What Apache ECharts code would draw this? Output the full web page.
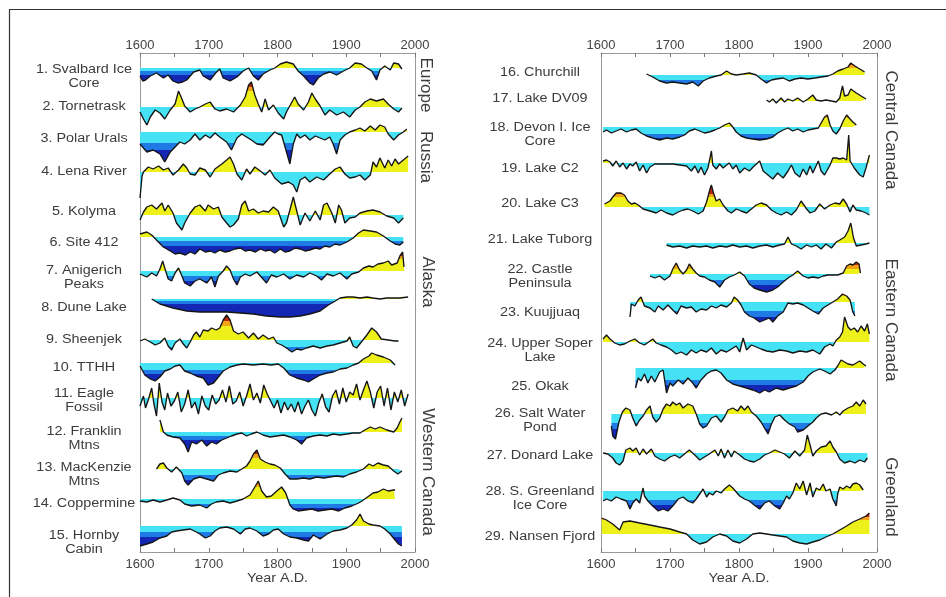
<!DOCTYPE html>
<html><head><meta charset="utf-8">
<script src="https://cdn.jsdelivr.net/npm/echarts@6/dist/echarts.min.js"></script>
<style>html,body{margin:0;padding:0;background:#fff}#c{width:946px;height:597px}</style>
</head><body><div id="c"></div>
<script>
// ---------- DATA ----------
const tickYears = [1600, 1700, 1800, 1900, 2000];
const names = [
 '1. Svalbard Ice\nCore','2. Tornetrask','3. Polar Urals','4. Lena River','5. Kolyma','6. Site 412',
 '7. Anigerich\nPeaks','8. Dune Lake','9. Sheenjek','10. TTHH','11. Eagle\nFossil','12. Franklin\nMtns',
 '13. MacKenzie\nMtns','14. Coppermine','15. Hornby\nCabin',
 '16. Churchill','17. Lake DV09','18. Devon I. Ice\nCore','19. Lake C2','20. Lake C3','21. Lake Tuborg',
 '22. Castle\nPeninsula','23. Kuujjuaq','24. Upper Soper\nLake','25. Okak','26. Salt Water\nPond',
 '27. Donard Lake','28. S. Greenland\nIce Core','29. Nansen Fjord'];
const regionNames = ['Europe','Russia','Alaska','Western Canada','Central Canada','Eastern Canada','Greenland'];
const axisTitle = 'Year A.D.';

const s01 = [[1600,-8],[1604,-13],[1608,-12],[1615,-8],[1624,-5],[1634,-10],[1641,-7],[1648,-13],[1655,-15],[1662,-14],[1668,-12],[1678,-4],[1687,-2],[1692,-8],[1702,-12],[1710,-5],[1716,-1],[1721,-10],[1731,-13],[1741,-9],[1750,-3],[1758,0],[1765,-8],[1772,-12],[1779,-6],[1789,-2],[1796,0],[1804,4],[1813,6],[1823,4],[1830,-3],[1838,-8],[1847,-15],[1852,-17],[1859,-10],[1867,-6],[1876,-4],[1886,-7],[1896,-3],[1905,0],[1913,5],[1922,4],[1930,0],[1937,-3],[1944,-12],[1949,-2],[1956,2],[1964,-2],[1969,5],[1976,4],[1981,-1]];
const s02 = [[1600,-5],[1605,-12],[1610,-18],[1615,-10],[1622,-3],[1629,-6],[1636,-12],[1644,-3],[1651,3],[1656,16],[1661,8],[1665,1],[1673,-5],[1680,-2],[1687,0],[1695,3],[1702,5],[1709,-2],[1716,-4],[1726,-2],[1736,-5],[1746,2],[1753,10],[1758,22],[1762,25],[1767,12],[1772,3],[1777,-5],[1782,8],[1787,-3],[1794,2],[1801,-6],[1809,-12],[1813,-5],[1821,5],[1825,10],[1830,3],[1838,-3],[1845,5],[1850,14],[1855,8],[1862,1],[1869,-8],[1876,-3],[1886,-8],[1896,-5],[1905,-10],[1913,-3],[1920,0],[1927,5],[1935,8],[1944,6],[1954,8],[1961,3],[1969,-2],[1976,-5],[1981,-1]];
const s03 = [[1600,-12],[1610,-20],[1619,-18],[1629,-22],[1636,-30],[1644,-20],[1651,-15],[1658,-10],[1665,-12],[1673,-8],[1680,-2],[1687,-8],[1695,-3],[1702,-6],[1709,-1],[1716,-5],[1726,-10],[1733,-18],[1741,-6],[1748,-2],[1755,-5],[1762,-8],[1770,-12],[1779,-13],[1789,-5],[1796,0],[1801,-2],[1806,-3],[1811,-15],[1818,-32],[1823,-12],[1828,-2],[1833,-6],[1840,-3],[1847,-8],[1855,-4],[1862,-6],[1869,-8],[1876,-5],[1881,-12],[1886,-22],[1891,-8],[1898,-3],[1905,0],[1913,2],[1920,4],[1927,1],[1935,6],[1942,2],[1949,7],[1956,5],[1961,-2],[1969,-8],[1976,-3],[1983,0],[1988,3]];
const s04 = [[1600,-26],[1603,-4],[1605,0],[1612,5],[1619,3],[1627,6],[1634,2],[1641,4],[1648,-3],[1656,2],[1663,8],[1668,4],[1673,-2],[1680,-3],[1687,4],[1695,2],[1702,-5],[1709,3],[1719,8],[1726,12],[1731,15],[1736,8],[1741,-2],[1748,-8],[1755,3],[1760,-2],[1767,5],[1775,1],[1782,-3],[1789,2],[1796,-6],[1806,-12],[1816,-10],[1823,-13],[1828,-20],[1833,-8],[1840,-5],[1847,-10],[1857,-5],[1867,-8],[1876,-2],[1884,3],[1891,5],[1898,-2],[1905,-6],[1913,-5],[1920,-3],[1927,-8],[1935,-3],[1939,10],[1944,5],[1949,14],[1956,4],[1961,12],[1966,6],[1971,13],[1976,8],[1983,12],[1990,16]];
const s05 = [[1600,-5],[1605,3],[1610,8],[1617,10],[1624,6],[1632,12],[1636,4],[1641,10],[1648,2],[1653,-8],[1661,-15],[1665,-8],[1673,2],[1680,8],[1687,10],[1695,4],[1699,10],[1707,6],[1714,8],[1719,-2],[1726,-8],[1731,-12],[1736,-10],[1743,-4],[1748,10],[1753,14],[1758,4],[1765,6],[1772,2],[1779,4],[1787,3],[1794,8],[1801,4],[1809,-12],[1813,-8],[1818,5],[1823,18],[1828,4],[1833,-10],[1840,2],[1847,-6],[1855,4],[1862,-5],[1867,10],[1872,12],[1879,2],[1884,-8],[1889,10],[1893,5],[1898,-8],[1905,-3],[1913,-2],[1920,2],[1930,4],[1939,5],[1949,3],[1959,-1],[1969,-3],[1976,-8],[1983,-3]];
const s06 = [[1600,3],[1610,5],[1617,2],[1624,-3],[1634,-10],[1644,-14],[1651,-17],[1658,-16],[1666,-18],[1673,-15],[1680,-17],[1687,-12],[1695,-15],[1702,-14],[1709,-16],[1716,-13],[1724,-15],[1731,-14],[1738,-12],[1746,-11],[1753,-14],[1760,-13],[1768,-15],[1775,-12],[1782,-14],[1789,-13],[1796,-16],[1804,-12],[1811,-15],[1818,-14],[1826,-11],[1833,-12],[1840,-14],[1847,-13],[1855,-11],[1862,-12],[1869,-9],[1876,-10],[1884,-7],[1891,-8],[1901,-5],[1910,-1],[1918,4],[1925,7],[1935,6],[1944,5],[1954,1],[1964,-4],[1971,-7],[1978,-8],[1983,-5]];
const s07 = [[1600,-3],[1610,-6],[1617,-2],[1624,-5],[1629,2],[1633,10],[1636,3],[1641,-8],[1646,-10],[1651,-2],[1656,3],[1661,-5],[1665,-12],[1673,-15],[1680,-10],[1687,-8],[1697,-12],[1704,-6],[1709,-16],[1714,-5],[1721,0],[1726,5],[1731,1],[1736,-8],[1741,-14],[1746,-6],[1753,-3],[1760,-5],[1770,-1],[1779,-8],[1784,-12],[1791,-4],[1799,-6],[1809,-3],[1818,-8],[1828,-4],[1838,-6],[1847,-2],[1857,-5],[1864,-9],[1872,-3],[1881,-5],[1891,-2],[1901,-8],[1908,-3],[1918,-1],[1925,3],[1933,5],[1939,4],[1946,7],[1954,8],[1961,10],[1966,6],[1974,8],[1978,15],[1982,19],[1984,4]];
const s08 = [[1617,0],[1629,-5],[1648,-9],[1668,-12],[1687,-13],[1707,-13],[1726,-13],[1746,-14],[1765,-15],[1784,-17],[1804,-18],[1818,-18],[1833,-17],[1847,-15],[1862,-12],[1874,-6],[1884,-2],[1891,1],[1901,2],[1910,2],[1920,1],[1930,2],[1939,1],[1949,0],[1959,1],[1969,1],[1978,1],[1990,2]];
const s09 = [[1600,-1],[1607,1],[1615,-2],[1622,-5],[1629,-3],[1636,2],[1641,-6],[1646,-10],[1651,-3],[1658,1],[1663,-4],[1668,-8],[1673,-2],[1678,5],[1682,8],[1687,3],[1692,10],[1699,9],[1704,12],[1711,10],[1716,12],[1721,20],[1726,25],[1731,20],[1736,9],[1743,6],[1750,8],[1758,2],[1765,7],[1772,1],[1779,5],[1787,1],[1794,3],[1799,-3],[1806,-5],[1813,-8],[1821,-12],[1828,-9],[1835,-10],[1842,-8],[1852,-6],[1862,-8],[1872,-6],[1881,-5],[1891,-3],[1901,-1],[1905,3],[1910,-6],[1915,-8],[1922,-2],[1930,5],[1937,12],[1944,8],[1951,1],[1961,0],[1971,-1],[1976,-1]];
const s10 = [[1600,-3],[1607,-12],[1615,-16],[1622,-18],[1629,-14],[1636,-8],[1644,-6],[1651,-3],[1658,-2],[1665,-8],[1673,-10],[1682,-13],[1692,-15],[1699,-22],[1707,-20],[1714,-14],[1721,-8],[1731,-4],[1741,-2],[1750,-1],[1765,-2],[1779,-1],[1791,-2],[1801,-1],[1809,-5],[1818,-12],[1828,-15],[1838,-17],[1845,-19],[1852,-16],[1862,-12],[1872,-10],[1881,-9],[1891,-6],[1901,-5],[1910,-2],[1918,0],[1925,4],[1933,7],[1937,10],[1944,8],[1954,6],[1964,3],[1971,-2]];
const s11 = [[1600,-8],[1605,2],[1608,-10],[1612,-2],[1617,10],[1620,-5],[1624,-18],[1628,15],[1632,-4],[1636,-12],[1640,5],[1645,-8],[1650,-3],[1655,6],[1660,-14],[1665,-6],[1670,8],[1675,-10],[1680,-4],[1685,-16],[1690,2],[1695,-8],[1700,-12],[1705,3],[1710,-6],[1715,-2],[1720,8],[1725,-4],[1730,12],[1735,-6],[1740,-3],[1745,6],[1750,-8],[1755,2],[1760,14],[1765,-2],[1770,5],[1775,-5],[1780,13],[1785,4],[1790,-3],[1795,-10],[1800,-2],[1805,-15],[1810,-4],[1815,-12],[1820,-6],[1825,-14],[1830,-4],[1835,-16],[1840,-8],[1845,-2],[1850,-12],[1855,-18],[1860,-5],[1865,4],[1870,-9],[1875,-14],[1880,2],[1885,8],[1890,-6],[1895,10],[1900,-4],[1905,6],[1910,3],[1915,14],[1920,-2],[1925,8],[1930,17],[1935,6],[1940,-10],[1945,6],[1950,12],[1955,-8],[1960,10],[1965,-12],[1970,6],[1975,-4],[1980,8],[1985,-8],[1990,4]];
const s12 = [[1629,12],[1634,0],[1639,-3],[1648,-5],[1658,-6],[1665,-12],[1670,-20],[1675,-10],[1682,-12],[1690,-8],[1697,-14],[1704,-10],[1711,-12],[1719,-8],[1726,-6],[1733,-4],[1741,-2],[1748,-1],[1755,-4],[1762,-2],[1770,0],[1779,-3],[1789,-5],[1799,-4],[1809,-3],[1818,-5],[1828,-8],[1835,-12],[1842,-6],[1852,-4],[1862,-3],[1872,-4],[1881,-2],[1891,-3],[1901,-2],[1910,-1],[1920,-1],[1927,2],[1935,5],[1942,3],[1949,5],[1959,2],[1969,0],[1974,4],[1978,10],[1981,14]];
const s13 = [[1624,0],[1629,5],[1634,6],[1639,1],[1646,-3],[1653,2],[1661,-4],[1665,-12],[1670,-16],[1678,-10],[1687,-8],[1697,-10],[1707,-12],[1714,-6],[1721,-4],[1731,-2],[1741,-3],[1748,0],[1755,3],[1760,8],[1765,15],[1770,19],[1775,10],[1782,7],[1789,5],[1796,4],[1804,1],[1811,-5],[1818,-10],[1828,-10],[1838,-9],[1847,-10],[1857,-8],[1867,-9],[1876,-8],[1886,-7],[1896,-8],[1905,-5],[1915,-3],[1925,0],[1933,5],[1939,3],[1946,6],[1954,4],[1961,3],[1969,-2],[1975,-5],[1981,-2]];
const s14 = [[1600,-2],[1610,-3],[1619,-1],[1629,-3],[1639,-1],[1648,1],[1658,-1],[1665,-5],[1675,-7],[1687,-6],[1697,-9],[1704,-5],[1711,-3],[1721,-2],[1731,-4],[1741,-2],[1750,0],[1760,4],[1767,12],[1772,18],[1777,8],[1784,2],[1791,3],[1799,8],[1806,12],[1812,6],[1818,-6],[1823,-10],[1830,-12],[1840,-11],[1850,-10],[1859,-12],[1869,-11],[1879,-10],[1889,-12],[1898,-9],[1908,-7],[1918,-4],[1925,-1],[1933,3],[1939,6],[1946,7],[1954,10],[1961,8],[1969,9],[1971,9]];
const s15 = [[1600,-20],[1610,-18],[1619,-16],[1629,-12],[1639,-10],[1646,-6],[1653,-5],[1663,-4],[1673,-3],[1682,-6],[1687,-8],[1695,-12],[1702,-10],[1709,-5],[1716,-2],[1726,-1],[1736,-3],[1746,-8],[1753,-3],[1760,-2],[1770,-5],[1779,-10],[1787,-8],[1794,-4],[1801,-3],[1809,-8],[1818,-11],[1828,-12],[1838,-14],[1845,-15],[1852,-9],[1862,-13],[1872,-8],[1881,-5],[1891,-4],[1901,-2],[1908,1],[1915,6],[1920,12],[1925,5],[1933,2],[1939,1],[1949,0],[1956,-3],[1964,-8],[1971,-14],[1976,-18],[1981,-20]];
const s16 = [[1666,1],[1675,-2],[1685,-6],[1695,-8],[1704,-7],[1714,-8],[1724,-9],[1733,-7],[1741,-11],[1748,-6],[1757,-3],[1767,-1],[1774,0],[1782,4],[1789,1],[1796,0],[1806,1],[1815,2],[1825,0],[1832,-4],[1840,-8],[1847,-5],[1854,-4],[1864,-3],[1873,-6],[1881,-4],[1890,-3],[1900,-4],[1910,-3],[1919,-2],[1929,-1],[1936,1],[1943,4],[1951,6],[1958,8],[1962,12],[1968,9],[1975,6],[1982,3]];
const s17 = [[1840,1],[1844,-1],[1849,2],[1854,-2],[1861,3],[1866,-1],[1871,2],[1878,0],[1885,3],[1893,-1],[1900,2],[1907,6],[1912,1],[1919,0],[1926,1],[1934,0],[1941,-1],[1946,3],[1950,15],[1953,5],[1958,6],[1962,12],[1970,8],[1977,5],[1984,2]];
const s18 = [[1603,-5],[1608,-3],[1615,-6],[1622,-4],[1629,-2],[1637,-5],[1644,-3],[1651,-2],[1658,-6],[1666,-9],[1675,-11],[1685,-13],[1695,-11],[1704,-12],[1714,-10],[1721,-8],[1728,-4],[1736,-2],[1743,-4],[1750,-6],[1757,-5],[1765,-3],[1772,-1],[1779,2],[1786,4],[1791,0],[1796,-5],[1803,-9],[1811,-11],[1820,-12],[1830,-13],[1840,-12],[1849,-10],[1856,-6],[1864,-3],[1871,-1],[1878,-4],[1885,-2],[1893,-5],[1900,-3],[1907,-2],[1915,-1],[1919,4],[1924,10],[1928,12],[1932,2],[1936,-4],[1941,-7],[1946,-2],[1951,6],[1956,12],[1961,8],[1965,5],[1970,2]];
const s19 = [[1603,2],[1608,3],[1613,1],[1617,-3],[1622,2],[1627,-4],[1632,0],[1637,-6],[1642,-1],[1646,-3],[1651,1],[1656,-8],[1661,-2],[1666,-10],[1671,-4],[1678,-1],[1685,-1],[1695,-1],[1704,-1],[1714,-2],[1724,-3],[1731,-8],[1736,-3],[1741,-10],[1745,-4],[1750,-12],[1755,-5],[1760,12],[1762,-2],[1767,-6],[1772,-1],[1777,-5],[1782,-2],[1786,0],[1791,-6],[1796,-2],[1801,-10],[1808,-5],[1815,-8],[1822,-3],[1830,2],[1835,-8],[1842,-12],[1849,-16],[1856,-10],[1864,-15],[1871,-8],[1876,-2],[1881,-10],[1888,-14],[1893,-6],[1898,-12],[1903,-3],[1907,-10],[1915,2],[1919,-8],[1924,-12],[1932,-2],[1936,5],[1941,5],[1946,4],[1951,5],[1956,3],[1959,28],[1961,2],[1967,-5],[1975,-12],[1980,-14],[1984,-5],[1989,8]];
const s20 = [[1605,3],[1613,6],[1617,10],[1622,14],[1629,14],[1634,12],[1639,6],[1644,3],[1649,4],[1654,2],[1661,-2],[1671,-4],[1680,-6],[1687,-3],[1695,-6],[1704,-8],[1712,-5],[1719,-3],[1726,-2],[1733,-4],[1741,-7],[1748,-4],[1753,5],[1758,18],[1760,22],[1763,14],[1767,6],[1772,8],[1777,2],[1784,-4],[1789,-6],[1796,-2],[1803,-4],[1811,-6],[1818,-2],[1825,2],[1832,4],[1840,2],[1847,-3],[1854,-6],[1861,-8],[1869,-5],[1876,-8],[1883,-3],[1890,6],[1898,-2],[1903,-6],[1910,-4],[1917,3],[1924,-2],[1932,2],[1939,4],[1946,3],[1951,8],[1956,3],[1961,-5],[1965,2],[1970,-3],[1977,-4],[1984,-6],[1989,-8]];
const s21 = [[1695,-2],[1704,-4],[1714,-3],[1724,-5],[1733,-3],[1743,-4],[1753,-3],[1762,-5],[1772,-3],[1782,-4],[1791,-2],[1801,-4],[1811,-3],[1820,-5],[1830,-3],[1840,-2],[1849,-4],[1859,-2],[1866,-1],[1871,6],[1876,-1],[1883,-3],[1890,-6],[1898,-2],[1905,-4],[1912,-2],[1919,-6],[1926,-1],[1934,-5],[1941,1],[1946,3],[1953,6],[1958,12],[1962,20],[1966,5],[1970,-3],[1977,-2],[1984,-1],[1989,0]];
const s22 = [[1671,-2],[1678,-4],[1685,-2],[1692,-6],[1700,-2],[1704,5],[1709,11],[1714,4],[1719,0],[1724,4],[1728,10],[1733,5],[1738,1],[1743,-2],[1750,-3],[1757,-6],[1765,-8],[1772,-13],[1779,-6],[1786,-3],[1793,-1],[1801,2],[1808,-2],[1815,-10],[1822,-14],[1830,-16],[1840,-18],[1849,-16],[1856,-13],[1864,-8],[1871,-4],[1878,-1],[1885,3],[1893,-2],[1900,-4],[1907,-3],[1915,-4],[1922,-2],[1929,-1],[1936,-1],[1943,-1],[1951,1],[1956,8],[1961,10],[1965,9],[1970,12],[1974,10],[1976,1]];
const s23 = [[1642,-15],[1644,-2],[1649,-4],[1654,2],[1658,5],[1663,-4],[1671,-6],[1678,-10],[1683,-4],[1690,-8],[1697,-3],[1704,-8],[1710,-12],[1716,-4],[1724,-6],[1731,-5],[1738,-10],[1745,-7],[1753,-8],[1760,-4],[1767,-6],[1774,-3],[1782,-5],[1789,-1],[1793,5],[1798,2],[1803,-3],[1808,-10],[1815,-14],[1822,-16],[1830,-20],[1837,-18],[1844,-16],[1849,-20],[1856,-14],[1864,-10],[1871,-1],[1878,-2],[1885,-1],[1893,-3],[1900,-6],[1907,-9],[1915,-12],[1922,-6],[1929,-3],[1936,0],[1943,3],[1950,8],[1956,6],[1961,2],[1965,-10],[1968,-14]];
const s24 = [[1603,3],[1608,7],[1613,3],[1620,-1],[1627,-3],[1634,-2],[1642,1],[1649,3],[1656,-1],[1663,-3],[1671,1],[1675,3],[1680,-1],[1687,-3],[1695,-5],[1702,-8],[1709,-12],[1716,-10],[1724,-13],[1731,-8],[1738,-11],[1745,-8],[1753,-10],[1760,-6],[1767,-12],[1774,-8],[1782,-10],[1789,-7],[1796,-4],[1801,-10],[1806,4],[1811,-8],[1818,-3],[1825,-5],[1832,-7],[1840,-9],[1849,-10],[1859,-8],[1869,-9],[1878,-11],[1888,-9],[1898,-10],[1907,-8],[1917,-12],[1924,-5],[1932,-2],[1936,-4],[1941,2],[1946,5],[1950,10],[1953,25],[1958,15],[1962,12],[1967,14],[1972,10],[1977,16],[1982,11],[1986,18],[1989,8]];
const s25 = [[1650,-20],[1654,-10],[1658,-13],[1663,-6],[1668,-15],[1673,-8],[1678,-14],[1685,-4],[1690,-2],[1695,-25],[1700,-15],[1704,-18],[1712,-12],[1719,-16],[1726,-10],[1733,-15],[1738,-20],[1745,-12],[1753,-6],[1760,-3],[1767,-2],[1774,-5],[1782,-12],[1791,-16],[1801,-18],[1811,-20],[1820,-22],[1830,-25],[1837,-22],[1844,-24],[1854,-20],[1864,-22],[1873,-20],[1883,-18],[1893,-14],[1900,-8],[1907,-4],[1917,-1],[1924,-3],[1932,-6],[1939,-2],[1943,2],[1948,8],[1953,6],[1958,4],[1965,3],[1970,5],[1975,7],[1980,4],[1984,2]];
const s26 = [[1615,-12],[1617,-22],[1621,-25],[1626,-8],[1631,2],[1636,6],[1642,4],[1646,-4],[1651,-12],[1656,-6],[1661,-2],[1666,4],[1671,8],[1675,-3],[1680,-8],[1685,-4],[1690,5],[1695,10],[1700,8],[1704,12],[1709,9],[1714,11],[1719,6],[1726,10],[1733,8],[1738,0],[1743,-10],[1748,-14],[1753,-12],[1760,-4],[1767,-2],[1774,-8],[1779,-3],[1784,4],[1791,6],[1798,3],[1803,8],[1808,4],[1813,8],[1818,2],[1825,-2],[1832,-8],[1837,-14],[1842,-20],[1847,-10],[1852,-3],[1859,-1],[1866,-6],[1873,-10],[1881,-13],[1885,-18],[1893,-16],[1900,-12],[1907,-8],[1912,-4],[1919,0],[1926,1],[1934,-1],[1941,2],[1946,-1],[1951,3],[1958,6],[1965,8],[1970,12],[1975,8],[1980,14],[1984,10]];
const s27 = [[1603,0],[1610,-1],[1617,-5],[1622,-10],[1627,-12],[1632,-8],[1636,3],[1642,5],[1646,2],[1651,5],[1656,-2],[1661,4],[1666,-1],[1673,4],[1678,-3],[1685,-6],[1692,-8],[1700,-4],[1707,-2],[1714,-5],[1721,-1],[1728,3],[1736,-2],[1743,-7],[1750,-4],[1757,-1],[1765,3],[1770,-3],[1774,4],[1779,-5],[1784,3],[1789,-4],[1793,2],[1801,-2],[1808,-6],[1815,-8],[1822,-9],[1830,-6],[1837,-2],[1844,0],[1852,3],[1859,1],[1866,-1],[1873,-5],[1881,2],[1888,-3],[1895,3],[1899,18],[1903,8],[1907,-3],[1912,2],[1919,6],[1926,7],[1932,12],[1936,6],[1941,1],[1946,-6],[1953,-10],[1961,-8],[1968,-10],[1975,-7],[1982,-9],[1986,-5]];
const s28 = [[1603,-10],[1608,-8],[1615,-10],[1622,-6],[1629,-8],[1637,-10],[1642,-18],[1646,-12],[1651,-8],[1656,-12],[1661,3],[1663,-5],[1668,-10],[1675,-15],[1683,-20],[1690,-18],[1697,-20],[1704,-15],[1712,-8],[1719,-6],[1726,-10],[1733,-12],[1738,-8],[1743,-3],[1748,2],[1753,-6],[1757,-2],[1762,-4],[1767,0],[1774,-2],[1779,2],[1786,6],[1791,3],[1796,-1],[1801,-5],[1808,-8],[1815,-10],[1822,-14],[1830,-18],[1837,-12],[1844,-10],[1852,-15],[1859,-18],[1864,-12],[1869,-5],[1873,-8],[1878,-2],[1883,8],[1888,2],[1893,10],[1898,-4],[1903,8],[1907,-6],[1912,3],[1917,1],[1922,7],[1926,0],[1932,2],[1936,-8],[1941,-15],[1943,-3],[1946,4],[1951,2],[1956,5],[1961,3],[1965,7],[1970,8],[1975,6],[1980,1]];
const s29 = [[1601,16],[1608,14],[1617,10],[1627,4],[1632,12],[1642,13],[1656,11],[1671,9],[1685,7],[1700,5],[1714,2],[1724,0],[1733,-6],[1743,-10],[1753,-8],[1762,-3],[1772,0],[1782,-2],[1791,-7],[1801,-9],[1811,-5],[1820,0],[1830,1],[1840,0],[1849,-1],[1859,-2],[1869,-3],[1878,-7],[1888,-9],[1898,-10],[1907,-8],[1917,-6],[1926,-3],[1936,0],[1946,4],[1956,8],[1965,12],[1975,15],[1984,18],[1989,21]];

// colour-band thresholds per record (same units as the values):
// [dark/medium blue, medium blue/cyan, yellow/orange, orange/red]
const bands = [
 [-7,-3,10,20],[-22,-16,16,20],[-18,-11,20,30],[-40,-30,30,40],[-40,-30,30,40],[-9,-4,20,30],
 [-10,-5,12,15],[-5,-2,20,30],[-11,-7,14,19],[-11,-7,20,30],[-40,-30,30,40],[-8,-4,20,30],
 [-11,-6,11,15],[-9,-5,12,16],[-11,-6,9,13],
 [-10,-5,7,10],[-40,-30,30,40],[-11,-7,9,11],[-40,-30,30,40],[-40,-30,10,13],[-40,-30,30,40],
 [-11,-6,5,9],[-15,-9,6,10],[-40,-30,30,40],[-17,-12,30,40],[-15,-9,30,40],[-40,-30,30,40],
 [-14,-9,30,40],[-40,-30,14,17]];

// ---------- LAYOUT ----------
const records = [s01,s02,s03,s04,s05,s06,s07,s08,s09,s10,s11,s12,s13,s14,s15,
                 s16,s17,s18,s19,s20,s21,s22,s23,s24,s25,s26,s27,s28,s29];
const baseY  = [68,107,132,172,215,237,271,299,340,363,398,432,469,499,526,
                75,101,127,163,207,243,274,302,342,368,414,453,491,534];
const labelY = [77,107,139,172,212,243,278,308,340,368,401,439,475,504,543,
                73,99,135,169,204,240,277,313,351,387,421,456,499,537];
const regionPos = [[426,85],[426,157],[428,282],[428,472],[891,130],[891,320],[891,497]];
const PANELS = [{left:140, width:275, labelX:84}, {left:601, width:276, labelX:540}];
const HALF = 60;           // half height (value units = px) of each record strip
const FONT = '"Liberation Sans", Arial, sans-serif';
const C = {dark:'#1426b4', med:'#1f7ae6', cyan:'#44e2f4', yel:'#eef01a', org:'#f0a416', red:'#c0260c'};

function bandFill(k) {
  const b = bands[k], y0 = baseY[k] - HALF, y1 = baseY[k] + HALF;
  const off = v => (HALF - v) / (2 * HALF);
  const st = [[0,C.red],[off(b[3]),C.red],[off(b[3]),C.org],[off(b[2]),C.org],[off(b[2]),C.yel],
    [off(0),C.yel],[off(0),C.cyan],[off(b[1]),C.cyan],[off(b[1]),C.med],[off(b[0]),C.med],
    [off(b[0]),C.dark],[1,C.dark]].map(s => ({offset:s[0], color:s[1]}));
  return new echarts.graphic.LinearGradient(0, y0, 0, y1, st, true);
}

const grid = [], xAxis = [], yAxis = [], series = [];
PANELS.forEach((p, i) => {
  grid.push({left:p.left, width:p.width, top:53, height:499});
  const axBase = {gridIndex:i, type:'value', min:1600, max:2000, interval:50,
    axisLine:{onZero:false, lineStyle:{color:'#9a9a9a', width:1}},
    axisTick:{inside:true, length:4, lineStyle:{color:'#777'}},
    splitLine:{show:false}};
  const lab = {formatter:v => tickYears.includes(v) ? String(v) : '', color:'#444', fontSize:13, fontFamily:FONT};
  xAxis.push(Object.assign({}, axBase, {position:'bottom', axisLabel:Object.assign({margin:6}, lab)}));
  xAxis.push(Object.assign({}, axBase, {position:'top', axisLabel:Object.assign({margin:1}, lab)}));
  ['left','right'].forEach(pos => yAxis.push({gridIndex:i, type:'value', position:pos, min:0, max:1,
    axisLine:{show:true, onZero:false, lineStyle:{color:'#9a9a9a', width:1}}, axisTick:{show:false},
    axisLabel:{show:false}, splitLine:{show:false}}));
});

records.forEach((d, k) => {
  const p = PANELS[k < 15 ? 0 : 1];
  const gi = grid.length;
  grid.push({left:p.left, width:p.width, top:baseY[k]-HALF, height:2*HALF});
  xAxis.push({gridIndex:gi, type:'value', min:1600, max:2000, show:false});
  yAxis.push({gridIndex:gi, type:'value', min:-HALF, max:HALF, show:false});
  series.push({type:'line', name:names[k].replace('\n',' '), xAxisIndex:xAxis.length-1, yAxisIndex:yAxis.length-1,
    data:d, smooth:false, symbol:'none', showSymbol:false, silent:true, animation:false,
    lineStyle:{color:'#151515', width:1.35}, areaStyle:{opacity:1, color:bandFill(k), origin:0}});
});

const txt = (x, y, text, size, extra) => Object.assign({type:'text', x, y, silent:true,
  style:{text, align:'center', verticalAlign:'middle', textAlign:'center', textVerticalAlign:'middle',
    font:size + 'px ' + FONT, fill:'#3c3c3c', lineHeight:14}}, extra || {});

const graphic = [
  {type:'line', shape:{x1:9, y1:9.5, x2:946, y2:9.5}, style:{stroke:'#333', lineWidth:1.2}, silent:true},
  {type:'line', shape:{x1:9.5, y1:9, x2:9.5, y2:597}, style:{stroke:'#333', lineWidth:1.2}, silent:true}
];
names.forEach((n, k) => {
  const p = PANELS[k < 15 ? 0 : 1];
  graphic.push(txt(p.labelX, labelY[k], n, 12, {scaleX:1.2}));
});
regionNames.forEach((n, k) => {
  graphic.push(txt(regionPos[k][0], regionPos[k][1], n, 17, {rotation:-Math.PI/2}));
});
PANELS.forEach(p => graphic.push(txt(p.left + p.width/2, 579, axisTitle, 12, {scaleX:1.2})));

const chart = echarts.init(document.getElementById('c'), null, {renderer:'canvas'});
chart.setOption({animation:false, backgroundColor:'#fff', grid, xAxis, yAxis, series, graphic});
</script></body></html>
